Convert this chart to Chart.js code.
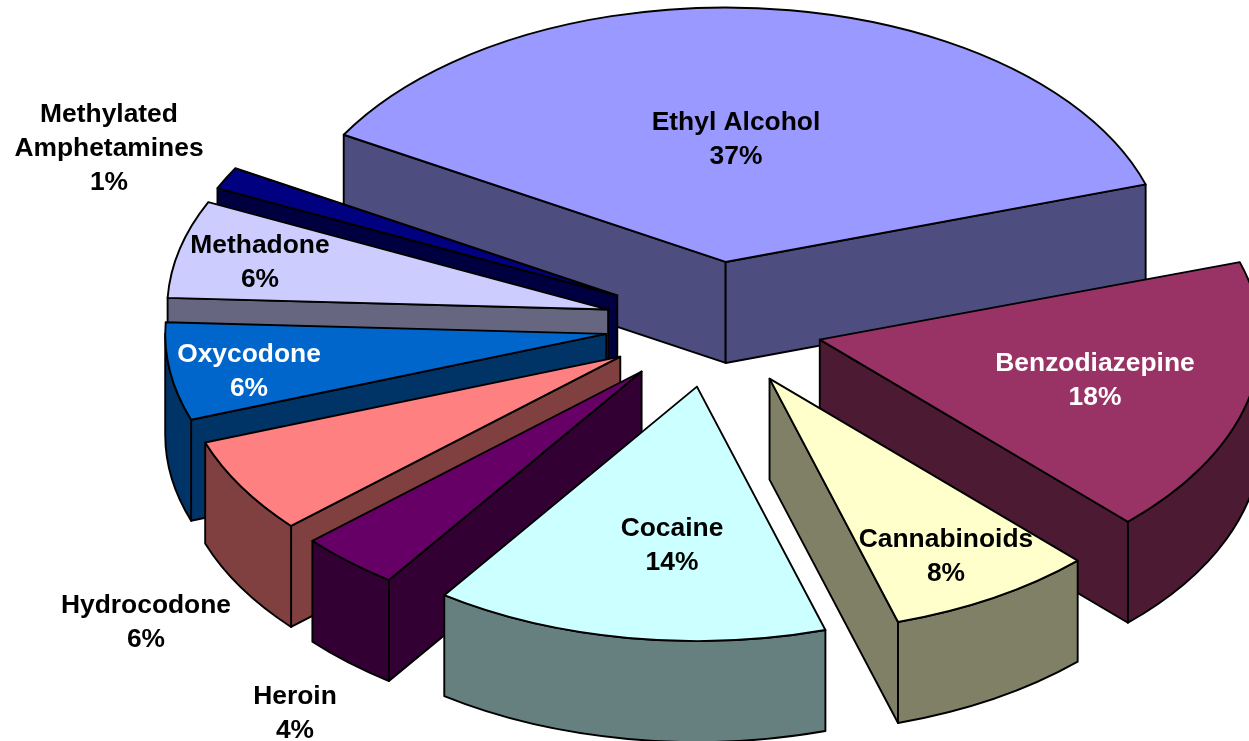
<!DOCTYPE html>
<html>
<head>
<meta charset="utf-8">
<style>html,body{margin:0;padding:0;background:#fff;overflow:hidden}canvas{display:block}</style>
<script src="https://cdn.jsdelivr.net/npm/chart.js@4"></script>
</head>
<body>
<canvas id="c" width="1249" height="741"></canvas>
<script>
const categories = ['Ethyl Alcohol','Benzodiazepine','Cannabinoids','Cocaine','Heroin','Hydrocodone','Oxycodone','Methadone','Methylated Amphetamines'];
const values = [36.7,17.6,7.6,14.4,3.7,6.1,6.2,6.2,1.4];
const topColors = ['#9999FF','#993366','#FFFFCC','#CCFFFF','#660066','#FF8080','#0066CC','#CCCCFF','#000080'];
const wallColors = ['#4D4D80','#4D1A33','#808066','#668080','#330033','#804040','#003366','#666680','#000040'];
const labelLines = [['Ethyl Alcohol'],['Benzodiazepine'],['Cannabinoids'],['Cocaine'],['Heroin'],['Hydrocodone'],['Oxycodone'],['Methadone'],['Methylated','Amphetamines']];
const labelColors = ['#000','#fff','#000','#000','#000','#000','#fff','#000','#000'];
const labelX = [736,1095,946,672,295,146,249,260,109];
const labelY = [123,364,540,529,697,606,355,246,115];

const pieCenterX = 714, pieCenterY = 324.5, radiusX = 441, tilt = 0.577, explode = 109, depth = 101, edgeWidth = 1.9;

const pie3d = {
  id: 'pie3d',
  beforeDatasetsDraw(chart) {
    const ctx = chart.ctx;
    const arcs = chart.getDatasetMeta(0).data;
    const order = arcs.map((a, i) => i).sort((p, q) =>
      Math.sin((arcs[p].startAngle + arcs[p].endAngle) / 2) - Math.sin((arcs[q].startAngle + arcs[q].endAngle) / 2));
    for (const i of order) {
      const arc = arcs[i];
      const R = arc.outerRadius;
      const k = radiusX / R;
      const s = arc.startAngle, e = arc.endAngle, m = (s + e) / 2;
      const place = () => {
        ctx.translate(pieCenterX + Math.cos(m) * explode, pieCenterY + Math.sin(m) * explode * tilt);
        ctx.scale(k, k * tilt);
        ctx.translate(-arc.x, -arc.y);
      };
      const dz = depth / (k * tilt);
      const outline = (build, fill) => {
        ctx.save();
        place();
        ctx.beginPath();
        build();
        ctx.closePath();
        ctx.restore();
        if (fill) { ctx.fillStyle = fill; ctx.fill(); }
        ctx.strokeStyle = '#000';
        ctx.lineWidth = edgeWidth;
        ctx.lineJoin = 'round';
        ctx.stroke();
      };
      const radial = (a) => () => {
        ctx.moveTo(arc.x, arc.y);
        ctx.lineTo(arc.x + Math.cos(a) * R, arc.y + Math.sin(a) * R);
        ctx.lineTo(arc.x + Math.cos(a) * R, arc.y + Math.sin(a) * R + dz);
        ctx.lineTo(arc.x, arc.y + dz);
      };
      if (Math.cos(s) < 0) outline(radial(s), wallColors[i]);
      if (Math.cos(e) > 0) outline(radial(e), wallColors[i]);
      // outer rim: the parts of the slice's arc on the viewer's side
      for (const shift of [0, 2 * Math.PI, -2 * Math.PI]) {
        const a0 = Math.max(s, shift), a1 = Math.min(e, Math.PI + shift);
        if (a1 > a0) {
          outline(() => {
            ctx.arc(arc.x, arc.y, R, a0, a1, false);
            ctx.arc(arc.x, arc.y + dz, R, a1, a0, true);
          }, wallColors[i]);
        }
      }
      ctx.save();
      place();
      arc.draw(ctx);
      ctx.restore();
      outline(() => {
        ctx.moveTo(arc.x, arc.y);
        ctx.arc(arc.x, arc.y, R, s, e, false);
      });
    }
    return false;
  },
  afterDraw(chart) {
    const ctx = chart.ctx;
    ctx.save();
    ctx.font = 'bold 26.4px "Liberation Sans", Arial, sans-serif';
    ctx.textAlign = 'center';
    ctx.textBaseline = 'middle';
    const total = values.reduce((a, b) => a + b, 0);
    values.forEach((v, i) => {
      const lines = labelLines[i].concat([Math.round(v / total * 100) + '%']);
      ctx.fillStyle = labelColors[i];
      lines.forEach((t, j) => ctx.fillText(t, labelX[i], labelY[i] + j * 34));
    });
    ctx.restore();
  }
};

new Chart(document.getElementById('c'), {
  type: 'pie',
  data: {
    labels: categories,
    datasets: [{
      data: values,
      backgroundColor: topColors,
      borderWidth: 0
    }]
  },
  options: {
    responsive: false,
    animation: false,
    rotation: -60,
    layout: { padding: 0 },
    plugins: { legend: { display: false }, tooltip: { enabled: false } }
  },
  plugins: [pie3d]
});
</script>
</body>
</html>
